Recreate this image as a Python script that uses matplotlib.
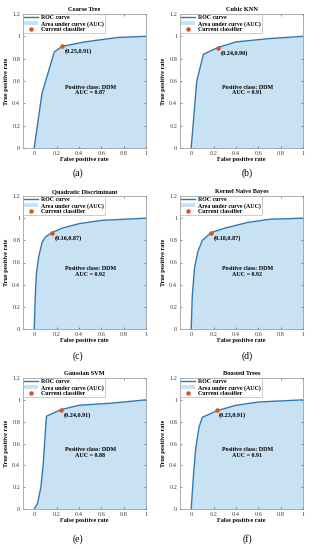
import matplotlib
matplotlib.use("Agg")
import matplotlib.pyplot as plt
from matplotlib.ticker import FuncFormatter
from matplotlib.patches import Patch
from matplotlib.lines import Line2D

plt.rcParams['font.family'] = ['Liberation Serif', 'DejaVu Serif']

titles = ["Coarse Tree", "Cubic KNN", "Quadratic Discriminant",
          "Kernel Naive Bayes", "Gaussian SVM", "Boosted Trees"]
panel_labels = ["(a)", "(b)", "(c)", "(d)", "(e)", "(f)"]
auc_values = [0.87, 0.91, 0.92, 0.92, 0.88, 0.91]
current_fpr = [0.25, 0.24, 0.16, 0.18, 0.24, 0.23]
current_tpr = [0.91, 0.90, 0.87, 0.87, 0.91, 0.91]

fpr_a = [0, 0.07, 0.18, 0.25, 0.45, 0.75, 1.0]
tpr_a = [0, 0.49, 0.86, 0.91, 0.95, 0.99, 1.0]
fpr_b = [0, 0.05, 0.11, 0.24, 0.40, 0.70, 1.0]
tpr_b = [0, 0.60, 0.84, 0.90, 0.95, 0.98, 1.0]
fpr_c = [0, 0.005, 0.01, 0.02, 0.04, 0.07, 0.10, 0.16, 0.25, 0.40, 0.60, 1.0]
tpr_c = [0, 0.15, 0.30, 0.50, 0.65, 0.78, 0.83, 0.87, 0.91, 0.95, 0.98, 1.0]
fpr_d = [0, 0.005, 0.01, 0.03, 0.06, 0.10, 0.18, 0.30, 0.50, 0.70, 1.0]
tpr_d = [0, 0.15, 0.30, 0.55, 0.70, 0.80, 0.87, 0.91, 0.96, 0.99, 1.0]
fpr_e = [0, 0.03, 0.06, 0.08, 0.09, 0.11, 0.24, 0.40, 0.70, 1.0]
tpr_e = [0, 0.05, 0.20, 0.40, 0.55, 0.85, 0.91, 0.95, 0.97, 1.0]
fpr_f = [0, 0.01, 0.02, 0.04, 0.07, 0.10, 0.23, 0.40, 0.60, 1.0]
tpr_f = [0, 0.15, 0.30, 0.55, 0.75, 0.84, 0.90, 0.95, 0.98, 1.0]

fprs = [fpr_a, fpr_b, fpr_c, fpr_d, fpr_e, fpr_f]
tprs = [tpr_a, tpr_b, tpr_c, tpr_d, tpr_e, tpr_f]

line_color = "#2a7ab8"
fill_color = "#c8e1f3"
dot_color = "#d95319"

W, H = 314, 550
fig = plt.figure(figsize=(W / 100, H / 100), dpi=100)

col_left = [23, 180]
row_top = [14, 196, 378]
row_bot = [148, 329, 509]
ax_w = 123
label_y = [173, 356, 539]
label_x = [78, 247]

fmt = FuncFormatter(lambda v, p: ("%g" % round(v, 2)))

for i in range(6):
    r, c = divmod(i, 2)
    l = col_left[c]
    t = row_top[r]
    b = row_bot[r]
    ax = fig.add_axes([l / W, 1 - b / H, ax_w / W, (b - t) / H])
    ax.fill_between(fprs[i], tprs[i], 0, color=fill_color, lw=0)
    ax.plot(fprs[i], tprs[i], color=line_color, lw=1.0)
    ax.plot(current_fpr[i], current_tpr[i], 'o', color=dot_color, ms=2.2)
    ax.text(current_fpr[i] + 0.02, current_tpr[i] - 0.02,
            "(%.2f,%.2f)" % (current_fpr[i], current_tpr[i]),
            fontsize=4.4, fontweight='bold', ha='left', va='top')
    ax.text(0.50, 0.52, "Positive class: DDM\nAUC = %.2f" % auc_values[i],
            fontsize=4.3, fontweight='bold', ha='center', va='center',
            linespacing=1.2)
    ax.set_xlim(-0.1, 1)
    ax.set_ylim(0, 1.2)
    ax.set_xticks([0, 0.2, 0.4, 0.6, 0.8, 1])
    ax.set_yticks([0, 0.2, 0.4, 0.6, 0.8, 1, 1.2])
    ax.xaxis.set_major_formatter(fmt)
    ax.yaxis.set_major_formatter(fmt)
    ax.tick_params(direction='in', length=1.5, width=0.4, labelsize=4.6,
                   pad=2, colors='#404040', top=True, right=True,
                   labeltop=False, labelright=False)
    for s in ax.spines.values():
        s.set_linewidth(0.5)
        s.set_color('#909090')
    ax.set_title(titles[i], fontsize=4.6, fontweight='bold', pad=2)
    ax.set_xlabel("False positive rate", fontsize=4.5, fontweight='bold', labelpad=1)
    ax.set_ylabel("True positive rate", fontsize=4.5, fontweight='bold', labelpad=2)
    handles = [Line2D([0], [0], color=line_color, lw=1.0),
               Patch(facecolor=fill_color, edgecolor='none'),
               Line2D([0], [0], marker='o', color=dot_color, lw=0, ms=2.2)]
    leg = ax.legend(handles, ["ROC curve", "Area under curve (AUC)", "Current classifier"],
                    loc='upper left', bbox_to_anchor=(0, 1),
                    frameon=True, fancybox=False, borderpad=0.2,
                    handlelength=2.4, handletextpad=0.5, labelspacing=0.1,
                    borderaxespad=0.0, prop={'weight': 'bold', 'size': 4.2})
    leg.get_frame().set_linewidth(0.4)
    leg.get_frame().set_edgecolor('#909090')
    fig.text(label_x[c] / W, 1 - label_y[r] / H, panel_labels[i],
             fontsize=7, ha='center', va='center')

fig.savefig("out.png", dpi=100, facecolor='white')
